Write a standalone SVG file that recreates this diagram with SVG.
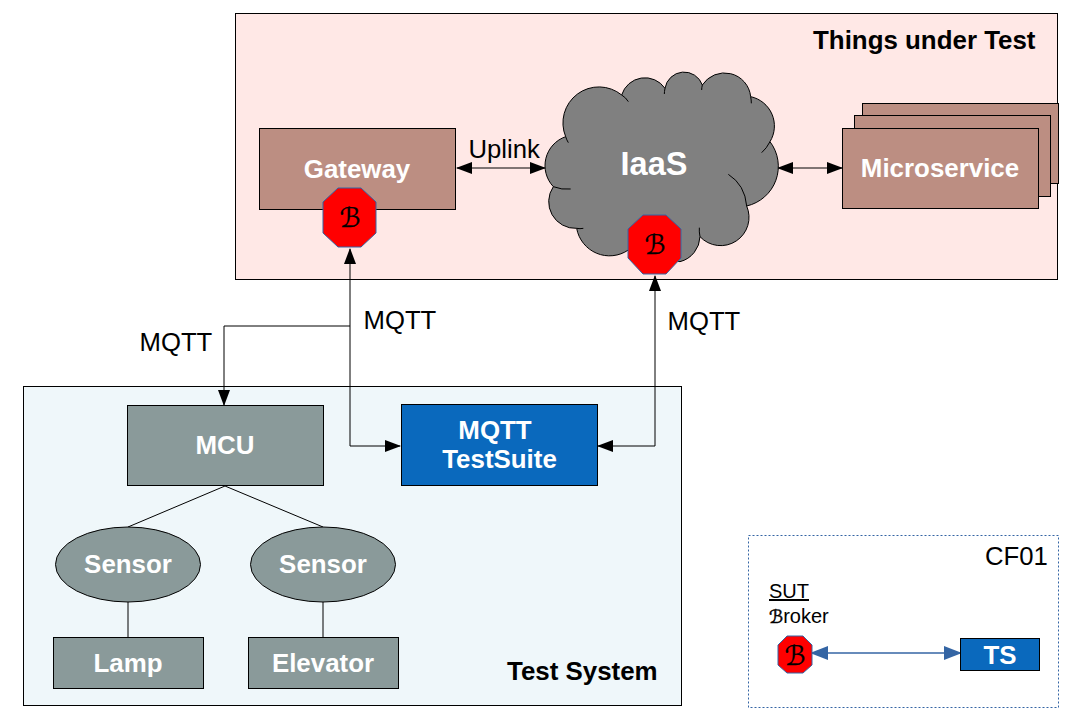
<svg xmlns="http://www.w3.org/2000/svg" width="1077" height="718" viewBox="0 0 1077 718">
<style>
text{font-family:"Liberation Sans",Arial,sans-serif}
.box{stroke:#000;stroke-width:1}
.brown{fill:#bc8e82}
.grey{fill:#8a9a9a}
.blue{fill:#0a69bd}
.w{fill:#fff;font-weight:bold;font-size:25.900px;text-anchor:middle}
.l{fill:#000;font-size:25.700px}
.h{fill:#000;font-weight:bold;font-size:25.900px}
.oct{fill:#ff0000;stroke:#3465a4;stroke-width:1}
.b{font-family:"DejaVu Sans","Noto Sans",sans-serif;font-size:27px;text-anchor:middle;fill:#000;stroke:#000;stroke-width:.3}
.c{fill:none;stroke:#000;stroke-width:1}
.c2{fill:none;stroke:#3465a4;stroke-width:1.500}
</style>
<defs>
<marker id="a" markerUnits="userSpaceOnUse" markerWidth="16" markerHeight="12" refX="15" refY="6" orient="auto-start-reverse"><path d="M0,0L16,6L0,12Z" fill="#000"/></marker>
<marker id="a2" markerUnits="userSpaceOnUse" markerWidth="18" markerHeight="14" refX="17" refY="7" orient="auto-start-reverse"><path d="M0,0L18,7L0,14Z" fill="#3465a4"/></marker>
</defs>
<rect width="1077" height="718" fill="#fff"/>
<g id="things-under-test"><rect x="235.500" y="13.500" width="822" height="266" fill="#ffe8e6" class="box"/><text x="813" y="49" class="h">Things under Test</text></g>
<g id="test-system"><rect x="23.500" y="386.500" width="658" height="319" fill="#eff7fa" class="box"/><text x="507" y="680" class="h">Test System</text></g>
<g id="cf01"><rect x="748.500" y="535.500" width="310" height="172" fill="#fff" stroke="#3465a4" stroke-width="1" stroke-dasharray="2 2"/><text x="985" y="565" class="l">CF01</text></g>
<g id="connectors">
<path class="c" d="M350,249V446H400" marker-start="url(#a)" marker-end="url(#a)"/>
<path class="c" d="M350,326H224V405" marker-end="url(#a)"/>
<path class="c" d="M655,276V446H598" marker-start="url(#a)" marker-end="url(#a)"/>
<path class="c" d="M457,168H545" marker-start="url(#a)" marker-end="url(#a)"/>
<path class="c" d="M778,168H842" marker-start="url(#a)" marker-end="url(#a)"/>
<path class="c" d="M225,486L128,527M225,486L323,527M128,602V637M323,602V637"/>
<path class="c2" d="M811,653H961" marker-start="url(#a2)" marker-end="url(#a2)"/>
</g>
<g id="gateway"><rect x="259.500" y="128.500" width="196" height="81" class="box brown"/><text x="357" y="178" class="w">Gateway</text></g>
<g id="gateway-broker"><path class="oct" d="M338,188H361L376,202V233L361,247H338L323,233V202Z"/><text x="350" y="227" class="b">ℬ</text></g>
<g id="iaas">
<g transform="translate(540,65) scale(.33333)"><path d="M77,215A108,108 0 0 1 245,90A73,73 0 0 1 375,70A58,58 0 0 1 487,60A79,79 0 0 1 632,95A90,90 0 0 1 690,230A122,122 0 0 1 620,423A85,85 0 0 1 480,515A80,80 0 0 1 420,590L265,555A100,100 0 0 1 110,490A80,80 0 0 1 40,365A92,92 0 0 1 77,215Z" fill="#808080" stroke="#000" stroke-width="3"/>
<path d="M245,90Q258,98 265,110M375,70Q373,80 373,87M487,60Q485,68 485,75M632,95Q634,105 634,115M690,230Q680,250 665,263M620,423Q615,360 565,328M480,515Q477,500 478,488M110,490Q120,492 130,490M40,365Q65,375 92,372M77,215Q80,225 85,233" fill="none" stroke="#000" stroke-width="3"/></g>
<text x="654" y="175" class="w" style="font-size:32.500px">IaaS</text></g>
<g id="iaas-broker"><path class="oct" d="M643,215H666L681,229V258L666,274H643L628,258V229Z"/><text x="655" y="254" class="b">ℬ</text></g>
<g id="microservice"><rect x="862.500" y="103.500" width="196" height="80" class="box brown"/><rect x="854.500" y="115.500" width="196" height="81" class="box brown"/><rect x="842.500" y="128.500" width="196" height="80" class="box brown"/><text x="940" y="177" class="w">Microservice</text></g>
<g id="mcu"><rect x="127.500" y="405.500" width="196" height="80" class="box grey"/><text x="225" y="454" class="w">MCU</text></g>
<g id="mqtt-testsuite"><rect x="401.500" y="404.500" width="196" height="81" class="box blue"/><text x="495" y="439" class="w">MQTT</text><text x="499.500" y="468" class="w">TestSuite</text></g>
<g id="sensor-1"><ellipse cx="128" cy="564.500" rx="72.500" ry="37.500" class="box grey"/><text x="128" y="573" class="w">Sensor</text></g>
<g id="sensor-2"><ellipse cx="323" cy="564.500" rx="72.500" ry="37.500" class="box grey"/><text x="323" y="573" class="w">Sensor</text></g>
<g id="lamp"><rect x="53.500" y="637.500" width="150" height="51" class="box grey"/><text x="128" y="672" class="w">Lamp</text></g>
<g id="elevator"><rect x="248.500" y="637.500" width="150" height="51" class="box grey"/><text x="323" y="672" class="w">Elevator</text></g>
<g id="ts"><rect x="960.500" y="638.500" width="79" height="32" class="box blue"/><text x="1000" y="664" class="w">TS</text></g>
<g id="cf-broker"><path class="oct" d="M787,636H803L812,645V665L803,673H787L778,665V645Z"/><text x="795" y="665" class="b">ℬ</text></g>
<g id="labels">
<text x="468.500" y="158" class="l">Uplink</text>
<text x="363.500" y="329" class="l">MQTT</text>
<text x="139.500" y="351" class="l">MQTT</text>
<text x="667.500" y="330" class="l">MQTT</text>
<text x="769" y="598" font-size="20" text-decoration="underline">SUT</text>
<text x="769" y="623" font-size="20"><tspan style="font-family:'DejaVu Sans',sans-serif;font-size:18px;stroke:#000;stroke-width:.5">ℬ</tspan>roker</text>
</g>
</svg>
